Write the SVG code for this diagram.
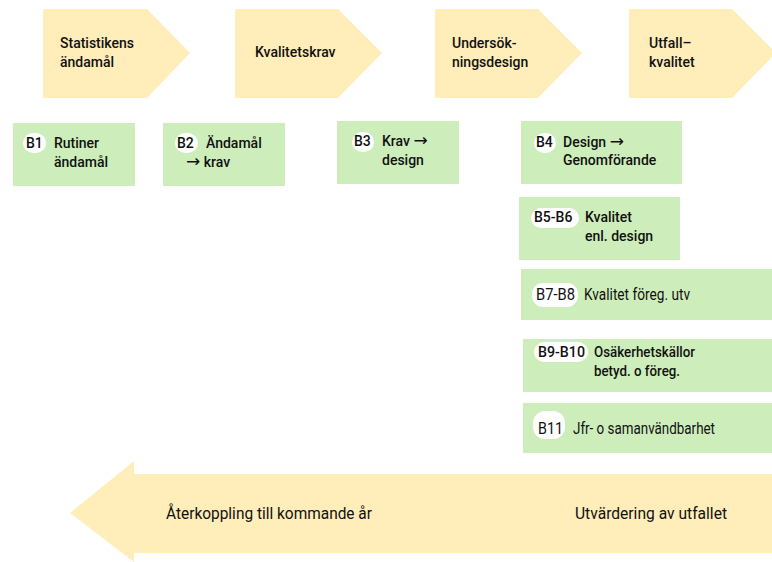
<svg xmlns="http://www.w3.org/2000/svg" width="772" height="562" viewBox="0 0 772 562">
<style>
.y{fill:#FFEDBA}
.g{fill:#CDEEBB}
.b{fill:#FFFFFF}
text{font-family:Roboto,"Liberation Sans",sans-serif;font-size:14px;font-weight:500;fill:#111111}
.bt{font-size:14px;font-weight:500}
.c{font-size:16px;font-weight:400}
.ar{font-family:"DejaVu Sans",sans-serif;font-weight:400;font-size:17px}
</style>
<g id="step1"><polygon class="y" points="43,9 147,9 190,53 147,98 43,98"/><text x="60" y="48">Statistikens</text><text x="60" y="67">ändamål</text></g>
<g id="step2"><polygon class="y" points="235,9 338,9 382,53 338,98 235,98"/><text x="255" y="57">Kvalitetskrav</text></g>
<g id="step3"><polygon class="y" points="435,9 538,9 582,53 538,98 435,98"/><text x="452" y="48">Undersök-</text><text x="452" y="67">ningsdesign</text></g>
<g id="step4"><polygon class="y" points="629,9 732,9 776,53 732,98 629,98"/><text x="649" y="48">Utfall–</text><text x="649" y="67">kvalitet</text></g>

<g id="B1"><rect class="g" x="13" y="123" width="122" height="63"/><rect class="b" x="23" y="133" width="23" height="20" rx="10"/><text class="bt" x="26" y="148">B1</text><text x="54" y="148">Rutiner</text><text x="54" y="167">ändamål</text></g>
<g id="B2"><rect class="g" x="163" y="123" width="122" height="63"/><rect class="b" x="175" y="133" width="23" height="20" rx="10"/><text class="bt" x="177" y="148">B2</text><text x="206" y="148">Ändamål</text><text x="186" y="167"><tspan class="ar">→</tspan> krav</text></g>
<g id="B3"><rect class="g" x="337" y="121" width="122" height="63"/><rect class="b" x="352" y="132" width="22" height="20" rx="10"/><text class="bt" x="354" y="146">B3</text><text x="382" y="146">Krav <tspan class="ar">→</tspan></text><text x="382" y="165">design</text></g>
<g id="B4"><rect class="g" x="521" y="121" width="161" height="63"/><rect class="b" x="534" y="133" width="22" height="20" rx="10"/><text class="bt" x="536" y="147">B4</text><text x="563" y="147">Design <tspan class="ar">→</tspan></text><text x="563" y="165">Genomförande</text></g>
<g id="B5-B6"><rect class="g" x="519" y="197" width="161" height="63"/><rect class="b" x="531" y="208" width="48" height="20" rx="10"/><text class="bt" x="534" y="222">B5-B6</text><text x="585" y="222">Kvalitet</text><text x="585" y="241">enl. design</text></g>
<g id="B7-B8"><rect class="g" x="521" y="269" width="251" height="51"/><rect class="b" x="532" y="283" width="46" height="24" rx="11"/><text class="c" x="536" y="300" textLength="39" lengthAdjust="spacingAndGlyphs">B7-B8</text><text class="c" x="584" y="300" textLength="106" lengthAdjust="spacingAndGlyphs">Kvalitet föreg. utv</text></g>
<g id="B9-B10"><rect class="g" x="523" y="339" width="249" height="53"/><rect class="b" x="534" y="342" width="54" height="20" rx="10"/><text class="bt" x="538" y="357" textLength="47" lengthAdjust="spacingAndGlyphs">B9-B10</text><text x="594" y="357" textLength="101" lengthAdjust="spacingAndGlyphs">Osäkerhetskällor</text><text x="594" y="376" textLength="86" lengthAdjust="spacingAndGlyphs">betyd. o föreg.</text></g>
<g id="B11"><rect class="g" x="523" y="403" width="249" height="50"/><rect class="b" x="533" y="411" width="32" height="28" rx="12"/><text class="c" x="538" y="434" textLength="25" lengthAdjust="spacingAndGlyphs">B11</text><text class="c" x="573" y="434" textLength="142" lengthAdjust="spacingAndGlyphs">Jfr- o samanvändbarhet</text></g>

<g id="feedback"><polygon class="y" points="70,513 134,461 134,474 772,474 772,553 134,553 134,562"/><text class="c" x="166" y="519" textLength="206" lengthAdjust="spacingAndGlyphs">Återkoppling till kommande år</text><text class="c" x="575" y="519" textLength="152" lengthAdjust="spacingAndGlyphs">Utvärdering av utfallet</text></g>
<g id="connectors"></g>
</svg>
